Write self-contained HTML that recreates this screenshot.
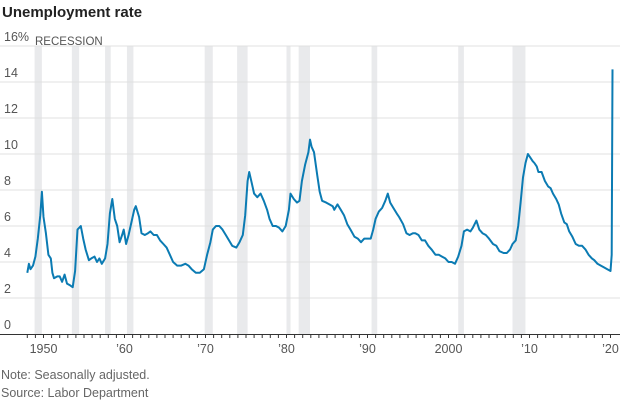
<!DOCTYPE html>
<html><head><meta charset="utf-8"><style>
body{margin:0;background:#fff;font-family:"Liberation Sans",sans-serif;}
svg{display:block}
</style></head><body>
<svg id="chart" width="620" height="400">
<text x="2" y="17" font-size="15" font-weight="bold" fill="#222">Unemployment rate</text>
<g id="rec"></g><g id="grid"></g><g id="xax"></g>
<path id="line" fill="none" stroke="#0b7bb3" stroke-width="2" stroke-linejoin="round"></path>
<text x="35" y="45" font-size="11.5" fill="#555">RECESSION</text>
<text x="1" y="379" font-size="12.5" fill="#666">Note: Seasonally adjusted.</text>
<text x="1" y="397" font-size="12.5" fill="#666">Source: Labor Department</text>
</svg>
<script>
const yTicks=[0,2,4,6,8,10,12,14,16];
const yTickLabels=["0","2","4","6","8","10","12","14","16%"];
const xTickYears=[1950,1960,1970,1980,1990,2000,2010,2020];
const xTickLabels=["1950","’60","’70","’80","’90","2000","’10","’20"];
const recessionStarts=[1948.9,1953.5,1957.6,1960.3,1969.9,1973.9,1980.0,1981.5,1990.5,2001.2,2007.9];
const recessionEnds=[1949.8,1954.4,1958.3,1961.1,1970.9,1975.2,1980.5,1982.9,1991.2,2001.9,2009.5];
const years=[1948.0,1948.2,1948.4,1948.7,1949.0,1949.3,1949.6,1949.8,1950.0,1950.3,1950.6,1950.9,1951.1,1951.3,1951.7,1952.0,1952.3,1952.6,1952.9,1953.3,1953.6,1953.9,1954.2,1954.6,1954.9,1955.2,1955.6,1955.9,1956.3,1956.6,1956.9,1957.2,1957.6,1957.9,1958.2,1958.5,1958.8,1959.1,1959.4,1959.7,1959.9,1960.2,1960.5,1960.9,1961.2,1961.4,1961.8,1962.1,1962.5,1962.9,1963.2,1963.6,1964.0,1964.4,1964.8,1965.2,1965.6,1966.0,1966.5,1967.0,1967.5,1967.9,1968.3,1968.8,1969.3,1969.8,1970.2,1970.6,1970.9,1971.3,1971.7,1972.1,1972.5,1972.9,1973.3,1973.8,1974.2,1974.6,1974.9,1975.2,1975.4,1975.7,1976.0,1976.4,1976.8,1977.2,1977.6,1977.9,1978.3,1978.7,1979.1,1979.5,1979.9,1980.3,1980.5,1980.9,1981.3,1981.6,1981.9,1982.3,1982.7,1982.9,1983.1,1983.4,1983.8,1984.1,1984.4,1984.9,1985.3,1985.7,1985.9,1986.3,1986.7,1987.1,1987.5,1987.9,1988.4,1988.8,1989.2,1989.6,1990.0,1990.4,1990.7,1991.0,1991.4,1991.8,1992.2,1992.5,1992.8,1993.2,1993.6,1993.9,1994.4,1994.8,1995.2,1995.6,1995.9,1996.3,1996.7,1997.1,1997.5,1997.9,1998.4,1998.8,1999.2,1999.6,2000.0,2000.4,2000.8,2001.2,2001.6,2001.9,2002.3,2002.7,2003.0,2003.45,2003.8,2004.2,2004.6,2005.0,2005.5,2005.9,2006.3,2006.8,2007.2,2007.6,2007.9,2008.3,2008.6,2008.9,2009.2,2009.5,2009.8,2010.1,2010.4,2010.6,2010.9,2011.1,2011.5,2011.9,2012.3,2012.6,2012.9,2013.3,2013.6,2013.9,2014.3,2014.6,2014.9,2015.3,2015.7,2016.1,2016.5,2016.9,2017.3,2017.7,2018.0,2018.4,2018.8,2019.2,2019.6,2020.0,2020.15,2020.25];
const rates=[3.4,3.9,3.6,3.8,4.3,5.3,6.6,7.9,6.5,5.6,4.4,4.2,3.4,3.1,3.2,3.2,2.9,3.3,2.8,2.7,2.6,3.5,5.8,6.0,5.3,4.7,4.1,4.2,4.3,4.0,4.2,3.9,4.2,5.0,6.7,7.5,6.4,6.0,5.1,5.5,5.8,5.0,5.5,6.3,6.9,7.1,6.5,5.6,5.5,5.6,5.7,5.5,5.5,5.2,5.0,4.8,4.4,4.0,3.8,3.8,3.9,3.8,3.6,3.4,3.4,3.6,4.4,5.1,5.8,6.0,6.0,5.8,5.5,5.2,4.9,4.8,5.1,5.5,6.6,8.5,9.0,8.4,7.8,7.6,7.8,7.4,6.9,6.4,6.0,6.0,5.9,5.7,6.0,6.9,7.8,7.5,7.3,7.4,8.5,9.4,10.1,10.8,10.4,10.1,8.8,7.9,7.4,7.3,7.2,7.1,6.9,7.2,6.9,6.6,6.1,5.8,5.4,5.3,5.1,5.3,5.3,5.3,5.8,6.4,6.8,7.0,7.4,7.8,7.3,7.0,6.7,6.5,6.1,5.6,5.5,5.6,5.6,5.5,5.2,5.2,4.9,4.7,4.4,4.4,4.3,4.2,4.0,4.0,3.9,4.3,4.9,5.7,5.8,5.7,5.9,6.3,5.8,5.6,5.5,5.3,5.0,4.9,4.6,4.5,4.5,4.7,5.0,5.2,6.0,7.3,8.7,9.5,10.0,9.8,9.6,9.5,9.3,9.0,9.0,8.5,8.2,8.1,7.8,7.5,7.2,6.7,6.2,6.1,5.7,5.4,5.0,4.9,4.9,4.7,4.4,4.2,4.1,3.9,3.8,3.7,3.6,3.5,4.4,14.7];
const NS="http://www.w3.org/2000/svg";
const X0=1950,XPX=43.5,PPY=8.1,Y0=334,PPV=18;
const xs=y=>XPX+(y-X0)*PPY, ys=v=>Y0-v*PPV;
function mk(t,a,p){const e=document.createElementNS(NS,t);for(const k in a)e.setAttribute(k,a[k]);p.appendChild(e);return e;}
const rec=document.getElementById('rec'),grid=document.getElementById('grid'),xax=document.getElementById('xax');
recessionStarts.forEach((s,i)=>{const r=mk('rect',{x:xs(s),y:ys(16),width:xs(recessionEnds[i])-xs(s),height:ys(0)-ys(16),fill:'#e9eaec'},rec);

});
yTicks.forEach((v,i)=>{if(v>0){const l=mk('line',{x1:0,x2:620,y1:ys(v),y2:ys(v),stroke:'#e0e0e0','stroke-width':1},grid);

}
const t=mk('text',{x:4,y:ys(v)-5,'font-size':12.5,fill:'#555'},grid);t.textContent=yTickLabels[i];

});
const ax=mk('line',{x1:0,x2:620,y1:Y0+0.5,y2:Y0+0.5,stroke:'#333','stroke-width':1},xax);


for(let y=1948;y<=2020;y++){const tk=mk('line',{x1:xs(y),x2:xs(y),y1:Y0,y2:Y0+4,stroke:'#333','stroke-width':1},xax);

}
xTickYears.forEach((y,i)=>{const t=mk('text',{x:xs(y),y:Y0+19,'font-size':12.5,fill:'#555','text-anchor':'middle'},xax);t.textContent=xTickLabels[i];

});
document.getElementById('line').setAttribute('d',years.map((y,i)=>(i?'L':'M')+xs(y).toFixed(1)+','+ys(rates[i]).toFixed(1)).join(''));
</script>
</body></html>
